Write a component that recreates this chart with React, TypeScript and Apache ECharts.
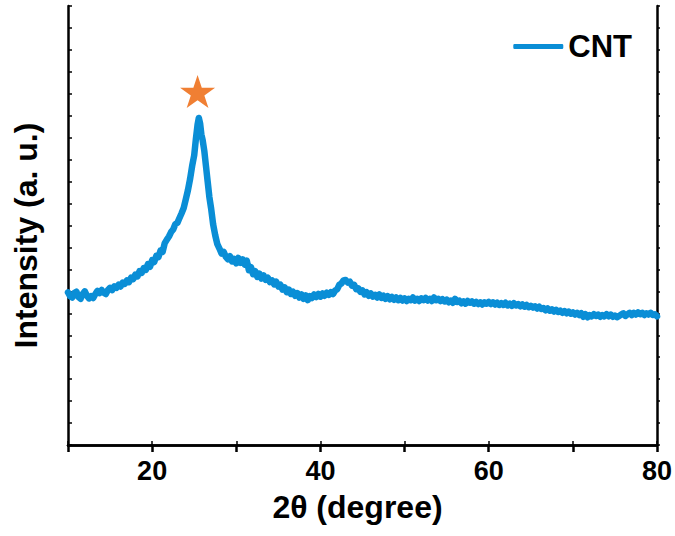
import React, { useEffect, useRef } from "react";
import * as echarts from "echarts";

// [2θ, intensity]
const cntPattern: [number, number][] = [
  [10.0, 6.95], [10.25, 6.78], [10.5, 6.72], [10.75, 6.92], [11.0, 6.98], [11.25, 6.74], [11.5, 6.66], [11.75, 6.88],
  [12.0, 7.0], [12.25, 6.8], [12.5, 6.68], [12.75, 6.78], [13.0, 6.7], [13.25, 6.88], [13.5, 7.02], [13.75, 6.92],
  [14.0, 7.06], [14.25, 6.94], [14.5, 6.88], [14.75, 7.06], [15.0, 7.16], [15.25, 7.06], [15.5, 7.22], [15.75, 7.16],
  [16.0, 7.3], [16.25, 7.22], [16.5, 7.4], [16.75, 7.34], [17.0, 7.5], [17.25, 7.42], [17.5, 7.62], [17.75, 7.56],
  [18.0, 7.76], [18.25, 7.68], [18.5, 7.92], [18.75, 7.84], [19.0, 8.06], [19.25, 7.98], [19.5, 8.24], [19.75, 8.12],
  [20.0, 8.42], [20.25, 8.34], [20.5, 8.62], [20.75, 8.56], [21.0, 8.86], [21.25, 8.8], [21.5, 9.2], [21.75, 9.36],
  [22.0, 9.5], [22.25, 9.7], [22.5, 9.82], [22.75, 10.06], [23.0, 10.12], [23.25, 10.34], [23.5, 10.56], [23.75, 10.8],
  [24.0, 11.2], [24.25, 11.6], [24.5, 12.1], [24.75, 12.7], [25.0, 13.2], [25.2, 13.95], [25.4, 14.6], [25.55, 14.9],
  [25.7, 14.65], [25.85, 14.15], [26.0, 13.9], [26.2, 13.4], [26.4, 12.7], [26.6, 12.0], [26.8, 11.3], [27.0, 10.8],
  [27.25, 10.05], [27.5, 9.55], [27.75, 9.15], [28.0, 8.95], [28.25, 8.72], [28.5, 8.8], [28.75, 8.58], [29.0, 8.46],
  [29.25, 8.6], [29.5, 8.36], [29.75, 8.48], [30.0, 8.28], [30.25, 8.52], [30.5, 8.3], [30.75, 8.46], [31.0, 8.22],
  [31.25, 8.4], [31.5, 7.96], [31.75, 8.1], [32.0, 7.78], [32.25, 7.92], [32.5, 7.66], [32.75, 7.8], [33.0, 7.58],
  [33.25, 7.72], [33.5, 7.52], [33.75, 7.62], [34.0, 7.42], [34.25, 7.5], [34.5, 7.32], [34.75, 7.44], [35.0, 7.22],
  [35.25, 7.3], [35.5, 7.08], [35.75, 7.18], [36.0, 6.96], [36.25, 7.08], [36.5, 6.88], [36.75, 6.98], [37.0, 6.8],
  [37.25, 6.92], [37.5, 6.72], [37.75, 6.86], [38.0, 6.66], [38.25, 6.82], [38.5, 6.6], [38.75, 6.78], [39.0, 6.7],
  [39.25, 6.86], [39.5, 6.74], [39.75, 6.88], [40.0, 6.76], [40.25, 6.9], [40.5, 6.8], [40.75, 6.94], [41.0, 6.84],
  [41.25, 6.96], [41.5, 6.88], [41.75, 7.04], [42.0, 7.1], [42.25, 7.3], [42.5, 7.36], [42.75, 7.5], [43.0, 7.52],
  [43.25, 7.4], [43.5, 7.44], [43.75, 7.26], [44.0, 7.3], [44.25, 7.1], [44.5, 7.14], [44.75, 6.98], [45.0, 7.04],
  [45.25, 6.86], [45.5, 6.96], [45.75, 6.8], [46.0, 6.9], [46.25, 6.76], [46.5, 6.84], [46.75, 6.72], [47.0, 6.86],
  [47.25, 6.7], [47.5, 6.8], [47.75, 6.66], [48.0, 6.78], [48.25, 6.64], [48.5, 6.74], [48.75, 6.62], [49.0, 6.72],
  [49.25, 6.6], [49.5, 6.7], [49.75, 6.58], [50.0, 6.68], [50.25, 6.56], [50.5, 6.66], [50.75, 6.6], [51.0, 6.72],
  [51.25, 6.58], [51.5, 6.66], [51.75, 6.56], [52.0, 6.68], [52.25, 6.6], [52.5, 6.7], [52.75, 6.58], [53.0, 6.66],
  [53.25, 6.56], [53.5, 6.72], [53.75, 6.6], [54.0, 6.66], [54.25, 6.56], [54.5, 6.64], [54.75, 6.54], [55.0, 6.62],
  [55.25, 6.5], [55.5, 6.58], [55.75, 6.48], [56.0, 6.66], [56.25, 6.52], [56.5, 6.58], [56.75, 6.46], [57.0, 6.54],
  [57.25, 6.44], [57.5, 6.56], [57.75, 6.48], [58.0, 6.54], [58.25, 6.44], [58.5, 6.52], [58.75, 6.42], [59.0, 6.5],
  [59.25, 6.4], [59.5, 6.5], [59.75, 6.44], [60.0, 6.52], [60.25, 6.42], [60.5, 6.5], [60.75, 6.4], [61.0, 6.48],
  [61.25, 6.38], [61.5, 6.46], [61.75, 6.38], [62.0, 6.48], [62.25, 6.36], [62.5, 6.44], [62.75, 6.34], [63.0, 6.46],
  [63.25, 6.36], [63.5, 6.42], [63.75, 6.32], [64.0, 6.4], [64.25, 6.3], [64.5, 6.38], [64.75, 6.28], [65.0, 6.34],
  [65.25, 6.26], [65.5, 6.32], [65.75, 6.22], [66.0, 6.3], [66.25, 6.2], [66.5, 6.24], [66.75, 6.14], [67.0, 6.22],
  [67.25, 6.12], [67.5, 6.18], [67.75, 6.08], [68.0, 6.16], [68.25, 6.06], [68.5, 6.12], [68.75, 6.02], [69.0, 6.1],
  [69.25, 6.0], [69.5, 6.08], [69.75, 5.98], [70.0, 6.04], [70.25, 5.94], [70.5, 6.02], [70.75, 5.92], [71.0, 6.0],
  [71.25, 5.84], [71.5, 5.96], [71.75, 5.82], [72.0, 5.92], [72.25, 5.86], [72.5, 5.96], [72.75, 5.88], [73.0, 5.94],
  [73.25, 5.84], [73.5, 5.92], [73.75, 5.86], [74.0, 5.96], [74.25, 5.86], [74.5, 5.94], [74.75, 5.84], [75.0, 5.9],
  [75.25, 5.82], [75.5, 5.88], [75.75, 5.94], [76.0, 6.0], [76.25, 5.88], [76.5, 5.96], [76.75, 6.02], [77.0, 5.92],
  [77.25, 6.02], [77.5, 5.94], [77.75, 6.04], [78.0, 5.96], [78.25, 6.02], [78.5, 5.92], [78.75, 6.0], [79.0, 5.94],
  [79.25, 6.02], [79.5, 5.92], [79.75, 5.96], [80.0, 5.86],
];

const starPoint: [number, number] = [25.4, 16.1];
const xTicksLabeled: number[] = [20, 40, 60, 80];
const seriesName = "CNT";

const FONT = "'Liberation Sans', Arial, sans-serif";

export default function App() {
  const ref = useRef<HTMLDivElement>(null);
  useEffect(() => {
    document.body.style.margin = "0";
    if (!ref.current) return;
    const chart = echarts.init(ref.current, undefined, { renderer: "svg" });
    const axisLine = { show: true, lineStyle: { color: "#000", width: 2.5 } };
    chart.setOption({
      animation: false,
      backgroundColor: "#fff",
      grid: { left: 68, right: 18, top: 6, bottom: 91, containLabel: false },
      legend: {
        right: 38,
        top: 26,
        itemWidth: 50,
        itemHeight: 5,
        icon: "roundRect",
        data: [seriesName],
        textStyle: { fontFamily: FONT, fontWeight: "bold", fontSize: 31, color: "#000" },
      },
      xAxis: [
        {
          type: "value",
          min: 10,
          max: 80,
          interval: 10,
          position: "bottom",
          name: "2θ (degree)",
          nameLocation: "middle",
          nameGap: 46,
          nameTextStyle: {
            fontFamily: FONT,
            fontWeight: "bold",
            fontSize: 32,
            color: "#000",
            padding: [0, 10, 0, 0],
          },
          axisLine,
          axisTick: { show: true, inside: false, length: 7, lineStyle: { width: 2.5, color: "#000" } },
          axisLabel: {
            margin: 12,
            fontFamily: FONT,
            fontWeight: "bold",
            fontSize: 27,
            color: "#000",
            formatter: (v: number) => (xTicksLabeled.includes(v) ? String(v) : ""),
          },
          splitLine: { show: false },
        },
        {
          type: "value",
          min: 10,
          max: 80,
          interval: 10,
          position: "top",
          axisLine,
          axisTick: { show: true, inside: false, length: 4, lineStyle: { width: 1.5, color: "#000" } },
          axisLabel: { show: false },
          splitLine: { show: false },
        },
      ],
      yAxis: [
        {
          type: "value",
          min: 0,
          max: 20,
          interval: 1,
          position: "left",
          name: "Intensity (a. u.)",
          nameLocation: "middle",
          nameGap: 26,
          nameTextStyle: {
            fontFamily: FONT,
            fontWeight: "bold",
            fontSize: 32,
            color: "#000",
            padding: [0, 20, 0, 0],
          },
          axisLine,
          axisTick: { show: true, inside: true, length: 4, lineStyle: { width: 1.5, color: "#000" } },
          axisLabel: { show: false },
          splitLine: { show: false },
        },
        {
          type: "value",
          min: 0,
          max: 20,
          interval: 1,
          position: "right",
          axisLine,
          axisTick: { show: true, inside: false, length: 3, lineStyle: { width: 1.5, color: "#000" } },
          axisLabel: { show: false },
          splitLine: { show: false },
        },
      ],
      series: [
        {
          name: seriesName,
          type: "line",
          data: cntPattern,
          showSymbol: false,
          symbol: "none",
          lineStyle: { color: "#0A8ED6", width: 6.5, join: "round", cap: "round" },
          itemStyle: { color: "#0A8ED6" },
          z: 3,
        },
        {
          name: "star",
          type: "scatter",
          data: [starPoint],
          symbol:
            "path://M50,0 L61.8,35.5 L99,35.5 L69,57.5 L80.5,93 L50,71 L19.5,93 L31,57.5 L1,35.5 L38.2,35.5 Z",
          symbolSize: [35, 33],
          itemStyle: { color: "#F07F33", opacity: 1 },
          z: 4,
        },
      ],
    });
    return () => chart.dispose();
  }, []);
  return <div ref={ref} style={{ width: 675, height: 536 }} />;
}
